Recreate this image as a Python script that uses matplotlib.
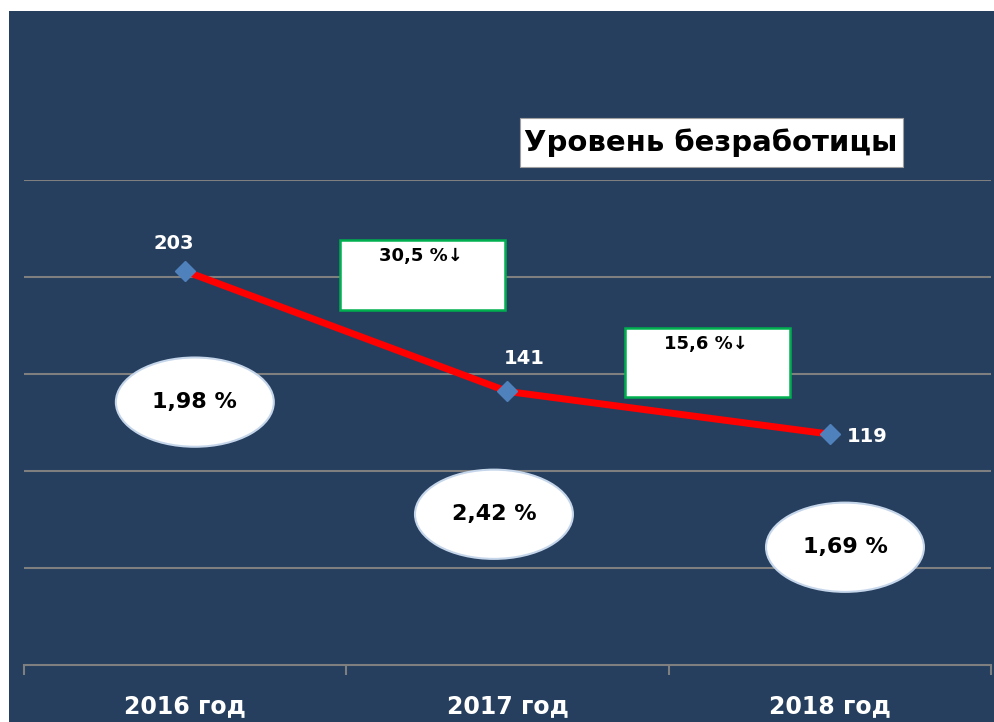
import matplotlib
matplotlib.use('Agg')
import matplotlib.pyplot as plt
from matplotlib.patches import Rectangle, Ellipse

plt.rcParams['font.family'] = ['DejaVu Sans']

# данные
years = ['2016 год', '2017 год', '2018 год']
unemployed = [203, 141, 119]
rates = ['1,98 %', '2,42 %', '1,69 %']
changes = ['30,5 %↓', '15,6 %↓']

NAVY = '#263f5f'
GRID = '#7f7f7f'

fig = plt.figure(figsize=(9.95, 7.22), dpi=100)
fig.patch.set_facecolor('white')
fig.patches.append(Rectangle((9 / 995, 0), 1, 1 - 11 / 722, transform=fig.transFigure,
                             facecolor=NAVY, edgecolor='none', zorder=-10))

ax = fig.add_axes([24 / 995, 57 / 722, 967 / 995, 485 / 722])
ax.set_facecolor('none')

x = list(range(len(years)))
ax.plot(x, unemployed, color='red', lw=5, zorder=3, solid_capstyle='butt')
ax.plot(x, unemployed, ls='none', marker='D', ms=10.5, color='#4f81bd', zorder=4)

ax.set_xlim(-0.5, 2.5)
ax.set_ylim(0, 250)
ax.set_yticks([50, 100, 150, 200, 250])
ax.yaxis.grid(True, color=GRID, lw=1.5)
ax.set_axisbelow(True)
ax.tick_params(axis='y', left=False, labelleft=False)

for s in ['top', 'right', 'left']:
    ax.spines[s].set_visible(False)
ax.spines['bottom'].set_color(GRID)
ax.spines['bottom'].set_linewidth(1.5)

ax.set_xticks(x)
ax.set_xticklabels(years, color='white', fontsize=17, fontweight='bold')
ax.tick_params(axis='x', length=0, pad=21)
ax.set_xticks([-0.5, 0.5, 1.5, 2.5], minor=True)
ax.tick_params(axis='x', which='minor', length=7, width=1.5, color=GRID, direction='out')

# подписи значений
offsets = [(-8, 20), (12, 24), (27, -2)]
for xi, v, off in zip(x, unemployed, offsets):
    ax.annotate(str(v), (xi, v), xytext=off, textcoords='offset points',
                ha='center', va='center', color='white', fontsize=14, fontweight='bold')

# овалы с процентами
ell_pos = [(0.03, 135.5), (0.958, 77.7), (2.047, 60.7)]
for (ex, ey), r in zip(ell_pos, rates):
    ax.add_patch(Ellipse((ex, ey), 0.49, 46, facecolor='white', edgecolor='#c6d6ea',
                         lw=1.5, zorder=5))
    ax.text(ex, ey, r, ha='center', va='center', fontsize=16, fontweight='bold',
            color='black', zorder=6)

# рамки с изменением
box_pos = [(0.4805, 183.1), (1.3647, 137.9)]
for (bx, by), c in zip(box_pos, changes):
    ax.add_patch(Rectangle((bx, by), 0.512, 36, facecolor='white', edgecolor='#00b050',
                           lw=1.8, zorder=5))
    ax.text(bx + 0.25, by + 27.5, c, ha='center', va='center', fontsize=13,
            fontweight='bold', color='black', zorder=6)

# заголовок
fig.patches.append(Rectangle((520 / 995, 1 - 167 / 722), 383 / 995, 49 / 722,
                             transform=fig.transFigure, facecolor='white',
                             edgecolor='#a0a0a0', lw=0.8, zorder=5))
fig.text(711 / 995, 1 - 143 / 722, 'Уровень безработицы', ha='center', va='center',
         fontsize=21, fontweight='bold', color='black', zorder=6)

fig.savefig('out.png', dpi=100, facecolor=fig.get_facecolor())
